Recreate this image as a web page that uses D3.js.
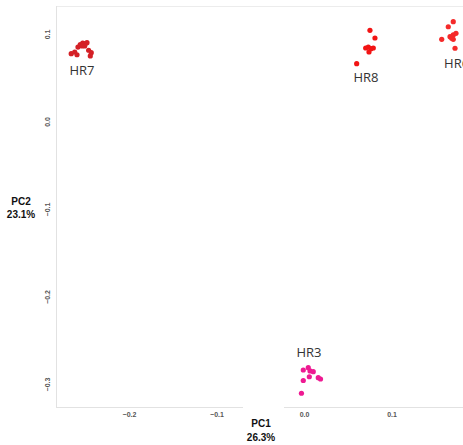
<!DOCTYPE html>
<html>
<head>
<meta charset="utf-8">
<script src="https://cdn.jsdelivr.net/npm/d3@7"></script>
<style>
  html, body { margin: 0; padding: 0; background: #fff; }
  svg { display: block; }
</style>
</head>
<body>
<svg id="chart" width="463" height="445"></svg>
<script>
// PCA scores: PC1 / PC2 for each sample, grouped by line
const groups = ["HR7", "HR8", "HR6", "HR3"];
const groupColors = ["#d42026", "#f21414", "#f52a2a", "#ee1a92"];

const hr7PC1 = [-0.266, -0.262, -0.2594, -0.2583, -0.2557, -0.2529, -0.2499, -0.248, -0.2506, -0.2461, -0.2431, -0.2442, -0.2537];
const hr7PC2 = [0.0775, 0.0794, 0.0763, 0.0851, 0.0878, 0.0897, 0.0889, 0.0901, 0.0863, 0.0814, 0.0786, 0.0749, 0.0863];

const hr8PC1 = [0.0754, 0.0811, 0.0705, 0.0735, 0.0766, 0.0743, 0.0792, 0.0602];
const hr8PC2 = [0.1042, 0.0954, 0.084, 0.0851, 0.0832, 0.0794, 0.084, 0.0661];

const hr6PC1 = [0.1706, 0.1649, 0.1574, 0.1669, 0.1706, 0.1737, 0.1706, 0.1688, 0.1726];
const hr6PC2 = [0.1141, 0.1083, 0.0939, 0.0969, 0.0989, 0.1008, 0.0939, 0.0951, 0.0837];

const hr3PC1 = [-0.0008, 0.0049, 0.0069, 0.0106, 0.0061, 0.0163, 0.0189, -0.0008, -0.0029];
const hr3PC2 = [-0.284, -0.2814, -0.2851, -0.2859, -0.2917, -0.2928, -0.2943, -0.296, -0.3106];

// Where each group's name sits, in PC units
const labelPC1 = [-0.2537, 0.0709, 0.1744, 0.0057];
const labelPC2 = [0.0589, 0.0509, 0.0669, -0.2634];

const xTicks = [-0.2, -0.1, 0.0, 0.1];
const yTicks = [0.1, 0.0, -0.1, -0.2, -0.3];
const xTitle = ["PC1", "26.3%"];
const yTitle = ["PC2", "23.1%"];

const pc1 = [hr7PC1, hr8PC1, hr6PC1, hr3PC1];
const pc2 = [hr7PC2, hr8PC2, hr6PC2, hr3PC2];

const points = [];
groups.forEach((g, gi) => {
  pc1[gi].forEach((v, i) => points.push({ group: g, gi, x: v, y: pc2[gi][i] }));
});

const svg = d3.select("#chart");
const plot = { left: 56, right: 479, top: 6, bottom: 407 };

const x = d3.scaleLinear().domain([-0.2834, 0.2]).range([plot.left, plot.right]);
const y = d3.scaleLinear().domain([-0.3263, 0.132]).range([plot.bottom, plot.top]);

const fmt = d3.format(".1f");

// frame lines
svg.append("line")
  .attr("x1", plot.left).attr("x2", plot.right)
  .attr("y1", plot.top + 0.5).attr("y2", plot.top + 0.5)
  .attr("stroke", "#ececec").attr("stroke-width", 1);

const xAxis = svg.append("g")
  .attr("transform", `translate(0,${plot.bottom + 0.5})`)
  .call(d3.axisBottom(x).tickValues(xTicks).tickSize(0).tickPadding(5).tickFormat(fmt));
xAxis.select(".domain").attr("stroke", "#e2e2e2").attr("d", `M${plot.left},0H${plot.right}`);
xAxis.selectAll("text")
  .attr("font-family", "Liberation Sans, Arial, sans-serif")
  .attr("font-size", 7).attr("fill", "#555").attr("font-weight", "bold");

const yAxis = svg.append("g")
  .attr("transform", `translate(${plot.left + 0.5},0)`)
  .call(d3.axisLeft(y).tickValues(yTicks).tickSize(0).tickPadding(0).tickFormat(fmt));
yAxis.select(".domain").attr("stroke", "#e2e2e2").attr("d", `M0,${plot.top}V${plot.bottom}`);
yAxis.selectAll("text")
  .attr("font-family", "Liberation Sans, Arial, sans-serif")
  .attr("font-size", 7).attr("fill", "#555").attr("font-weight", "bold")
  .attr("text-anchor", "middle")
  .attr("dy", "0.35em")
  .attr("transform", function () {
    const t = d3.select(this.parentNode).attr("transform");
    return "translate(-9,0) rotate(-90)";
  })
  .attr("x", 0).attr("y", 0);

// axis titles
const xt = svg.append("g").attr("transform", "translate(261,0)");
xt.append("rect").attr("x", -18).attr("y", plot.bottom - 3).attr("width", 41).attr("height", 40).attr("fill", "#fff");
xt.selectAll("text").data(xTitle).join("text")
  .attr("text-anchor", "middle")
  .attr("y", (d, i) => 427 + i * 14)
  .attr("font-family", "Liberation Sans, Arial, sans-serif")
  .attr("font-size", 10).attr("font-weight", "bold").attr("fill", "#111")
  .text(d => d);

svg.append("g").attr("transform", "translate(21,0)")
  .selectAll("text").data(yTitle).join("text")
  .attr("text-anchor", "middle")
  .attr("y", (d, i) => 204.5 + i * 13)
  .attr("font-family", "Liberation Sans, Arial, sans-serif")
  .attr("font-size", 10).attr("font-weight", "bold").attr("fill", "#111")
  .text(d => d);

// sample points
svg.append("g").selectAll("circle").data(points).join("circle")
  .attr("cx", d => x(d.x))
  .attr("cy", d => y(d.y))
  .attr("r", 2.6)
  .attr("fill", d => groupColors[d.gi]);

// group names
svg.append("g").selectAll("text").data(groups).join("text")
  .attr("x", (d, i) => x(labelPC1[i]))
  .attr("y", (d, i) => y(labelPC2[i]))
  .attr("dy", "0.35em")
  .attr("text-anchor", "middle")
  .attr("font-family", "Open Sans, sans-serif")
  .attr("font-size", 13).attr("fill", "#333")
  .text(d => d);
</script>
</body>
</html>
